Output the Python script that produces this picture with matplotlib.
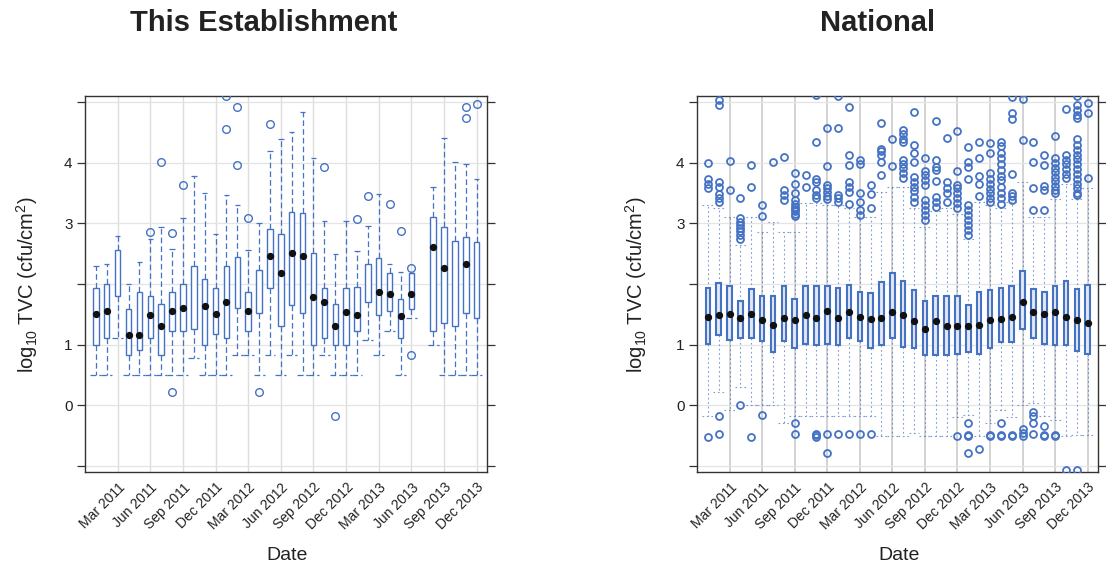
import numpy as np
import pandas as pd
import matplotlib
matplotlib.use('Agg')
import matplotlib.pyplot as plt

plt.rcParams['font.family'] = ['Liberation Sans', 'DejaVu Sans']
plt.rcParams['mathtext.fontset'] = 'custom'
plt.rcParams['mathtext.rm'] = 'Liberation Sans'
plt.rcParams['mathtext.it'] = 'Liberation Sans:italic'

# months on the x axis
months = list(pd.period_range('2011-01', '2013-12', freq='M').strftime('%b %Y'))
tick_labels = ['Mar 2011', 'Jun 2011', 'Sep 2011', 'Dec 2011', 'Mar 2012', 'Jun 2012',
               'Sep 2012', 'Dec 2012', 'Mar 2013', 'Jun 2013', 'Sep 2013', 'Dec 2013']
est_missing = ['Jul 2013']

# This Establishment (log10 TVC)
est_q1 = [1.00, 1.11, 1.80, 0.82, 0.91, 1.11, 0.82, 1.23, 1.23, 1.26, 1.00, 1.17, 1.11, 1.61, 1.23, 1.52, 1.94, 1.30,
          1.65, 1.52, 1.00, 1.11, 1.00, 1.00, 1.23, 1.70, 1.48, 1.55, 1.11, 1.58, 1.23, 1.36, 1.30, 1.52, 1.43]
est_q3 = [1.94, 2.00, 2.56, 1.59, 1.86, 1.80, 1.67, 1.86, 2.00, 2.30, 2.08, 1.94, 2.30, 2.45, 1.87, 2.23, 2.91, 2.82,
          3.19, 3.18, 2.52, 1.93, 1.67, 1.94, 1.95, 2.33, 2.43, 2.18, 1.75, 2.18, 3.11, 2.94, 2.71, 2.78, 2.69]
est_med = [1.50, 1.55, np.nan, 1.15, 1.15, 1.48, 1.30, 1.55, 1.61, np.nan, 1.63, 1.50, 1.70, np.nan, 1.55, np.nan,
           2.46, 2.18, 2.52, 2.46, 1.79, 1.70, 1.30, 1.53, 1.48, np.nan, 1.86, 1.83, 1.47, 1.83, 2.61, 2.26, np.nan,
           2.33, np.nan]
est_lo = [0.5, 0.5, 1.11, 0.5, 0.5, 0.5, 0.5, 0.5, 0.5, 0.78, 0.5, 0.5, 0.5, 0.82, 0.82, 0.5, 0.82, 0.5, 0.82, 0.5,
          0.5, 0.82, 0.5, 0.5, 0.5, 1.08, 0.82, 1.23, 0.5, 1.43, 1.0, 0.5, 0.5, 0.5, 0.5]
est_hi = [2.30, 2.33, 2.80, 2.00, 2.36, 2.75, 2.94, 2.58, 3.09, 3.79, 3.50, 2.83, 3.47, 3.30, 2.57, 3.00, 4.20, 4.39,
          4.51, 4.84, 4.09, 3.04, 2.50, 3.04, 2.55, 2.96, 3.49, 2.33, 2.20, 2.18, 3.61, 4.42, 4.01, 3.98, 3.74]
est_out = [[], [], [], [], [], [2.86], [4.01], [2.85, 0.22], [3.64], [], [], [], [5.11, 4.56], [4.93, 3.97], [3.09],
           [0.22], [4.65], [], [], [], [], [3.93], [-0.18], [], [3.07], [3.45], [], [3.33], [2.88], [2.26, 0.82],
           [], [], [], [4.93, 4.75], [4.98]]

# National
nat_q1 = [1.01, 1.16, 1.07, 1.10, 1.10, 1.05, 0.88, 1.06, 0.95, 1.01, 0.99, 1.01, 0.99, 1.10, 1.05, 0.94, 0.99, 1.10,
          0.96, 0.94, 0.82, 0.82, 0.82, 0.85, 0.87, 0.85, 0.95, 1.04, 1.04, 1.26, 1.10, 1.01, 0.99, 0.99, 0.90, 0.85]
nat_q3 = [1.93, 2.01, 1.96, 1.72, 1.91, 1.80, 1.80, 1.97, 1.76, 1.96, 1.96, 1.97, 1.93, 1.98, 1.86, 1.85, 2.03, 2.18,
          2.05, 1.90, 1.72, 1.80, 1.80, 1.80, 1.65, 1.86, 1.90, 1.94, 1.97, 2.21, 1.91, 1.86, 1.97, 2.05, 1.91, 1.98]
nat_med = [1.45, 1.48, 1.50, 1.43, 1.50, 1.40, 1.32, 1.43, 1.40, 1.48, 1.43, 1.55, 1.43, 1.53, 1.46, 1.42, 1.43, 1.53,
           1.48, 1.39, 1.25, 1.39, 1.30, 1.30, 1.30, 1.33, 1.40, 1.42, 1.46, 1.70, 1.53, 1.51, 1.53, 1.46, 1.40, 1.35]
nat_lo = [-0.18, 0.22, -0.09, 0.30, 0.0, 0.0, 0.0, -0.30, -0.18, -0.18, -0.18, -0.18, -0.18, -0.18, -0.18, -0.18,
          -0.52, -0.52, -0.52, -0.47, -0.52, -0.52, -0.52, -0.20, -0.17, -0.52, -0.30, -0.08, -0.20, 0.0, 0.03,
          -0.18, -0.25, -0.52, -0.50, -0.50]
nat_hi = [3.31, 3.25, 3.11, 2.65, 3.11, 2.86, 3.03, 2.86, 2.86, 3.34, 3.34, 3.30, 3.30, 3.25, 3.10, 3.10, 3.52, 3.60,
          3.60, 3.25, 2.95, 3.20, 3.25, 3.15, 2.75, 3.35, 3.30, 3.25, 3.35, 3.69, 3.10, 3.10, 3.40, 3.65, 3.40, 3.58]
nat_out = [
    [4.00, 3.73, 3.65, 3.58, -0.53],
    [5.04, 4.95, 3.68, 3.61, 3.48, 3.42, 3.36, -0.18, -0.48],
    [4.03, 3.55],
    [3.42, 3.09, 3.03, 2.98, 2.92, 2.87, 2.81, 2.75, 0.0],
    [3.96, 3.61, -0.53],
    [3.31, 3.13, -0.17],
    [4.01],
    [4.10, 3.55, 3.47, 3.39],
    [3.84, 3.65, 3.50, 3.38, 3.33, 3.28, 3.24, 3.20, 3.16, 3.12, -0.30, -0.48],
    [3.80, 3.61],
    [5.12, 4.34, 3.73, 3.68, 3.55, 3.47, 3.42, -0.48, -0.50, -0.53],
    [4.57, 3.95, 3.64, 3.58, 3.52, 3.46, 3.40, -0.48, -0.80],
    [5.10, 4.57, 3.47, 3.42, 3.36, -0.48],
    [4.93, 4.13, 3.97, 3.68, 3.61, 3.52, 3.33, -0.48],
    [4.05, 3.98, 3.50, 3.36, 3.22, 3.14, -0.48],
    [3.64, 3.49, 3.25, -0.48],
    [4.66, 4.23, 4.19, 4.13, 4.02, 3.80],
    [4.39, 3.95],
    [4.55, 4.48, 4.39, 4.34, 4.05, 3.98, 3.91, 3.84, 3.76],
    [4.85, 4.30, 4.16, 4.02, 3.77, 3.69, 3.61, 3.53, 3.44, 3.36],
    [4.09, 3.87, 3.80, 3.72, 3.64, 3.39, 3.31, 3.23, 3.14, 3.06],
    [4.69, 4.05, 3.94, 3.89, 3.71, 3.44, 3.36, 3.28],
    [4.42, 3.69, 3.58, 3.50, 3.36],
    [4.53, 3.87, 3.64, 3.58, 3.50, 3.42, 3.34, 3.26, -0.52],
    [4.26, 4.02, 3.93, 3.73, 3.31, 3.22, 3.14, 3.06, 2.98, 2.89, 2.81, -0.30, -0.50, -0.52, -0.80],
    [4.34, 4.08, 3.79, 3.65, 3.45, -0.72],
    [4.33, 4.16, 3.83, 3.73, 3.65, 3.57, 3.50, 3.42, 3.36, -0.50, -0.52],
    [4.35, 4.28, 4.17, 4.08, 3.98, 3.89, 3.79, 3.72, 3.61, 3.50, 3.42, 3.32, -0.30, -0.50, -0.52],
    [5.09, 4.83, 4.72, 3.82, 3.50, 3.45, 3.39, -0.50, -0.52],
    [5.05, 4.38, -0.40, -0.47, -0.52],
    [4.35, 4.02, 3.59, 3.22, -0.11, -0.18, -0.30, -0.48],
    [4.13, 3.97, 3.62, 3.55, 3.22, -0.35, -0.50, -0.52],
    [4.44, 4.08, 4.00, 3.92, 3.85, 3.77, 3.70, 3.62, 3.55, 3.50, -0.50, -0.52],
    [4.89, 4.13, 4.05, 3.98, 3.90, 3.82, 3.75, -1.07],
    [5.10, 4.96, 4.88, 4.79, 4.74, 4.39, 4.30, 4.22, 4.14, 4.06, 3.98, 3.90, 3.82, 3.74, 3.66, 3.58, 3.50, 3.47, -1.07],
    [4.99, 4.83, 3.75],
]

blue = '#4472c4'
W, H = 1106, 572
fig = plt.figure(figsize=(W / 100, H / 100), dpi=100)
ax1 = fig.add_axes([85 / W, 1 - 472 / H, 402 / W, 376 / H])
ax2 = fig.add_axes([697 / W, 1 - 472 / H, 401 / W, 376 / H])

est_pos = [months.index(m) for m in months if m not in est_missing]
nat_pos = list(range(len(months)))


def draw_panel(ax, pos, q1, q3, med, lo, hi, out, national):
    stats = [dict(q1=a, q3=b, med=c, whislo=d, whishi=e, fliers=f)
             for a, b, c, d, e, f in zip(q1, q3, med, lo, hi, out)]
    if national:
        wstyle = dict(color=blue, linestyle=(0, (1.5, 2.5)), linewidth=0.8, alpha=0.7)
        bstyle = dict(facecolor='#e3e7ee', edgecolor=blue, linewidth=1.5)
        fstyle = dict(marker='o', markersize=5.0, markerfacecolor='none', markeredgecolor=blue,
                      markeredgewidth=1.3, linestyle='none')
        bw = 0.42
    else:
        wstyle = dict(color=blue, linestyle=(0, (4.5, 2.5)), linewidth=0.9)
        bstyle = dict(facecolor='white', edgecolor=blue, linewidth=1.0)
        fstyle = dict(marker='o', markersize=5.5, markerfacecolor='none', markeredgecolor=blue,
                      markeredgewidth=1.0, linestyle='none')
        bw = 0.5
    ax.bxp(stats, positions=pos, widths=bw, patch_artist=True, showcaps=False,
           boxprops=bstyle, whiskerprops=wstyle, flierprops=fstyle,
           medianprops=dict(visible=False), manage_ticks=False, zorder=3)
    p = np.array(pos)
    # whisker ends
    if national:
        ax.hlines(hi, p - 0.5, p + 0.5, color=blue, linestyle=(0, (1.5, 2.5)), lw=0.8, alpha=0.7, zorder=3)
        ax.hlines(lo, p - 0.5, p + 0.5, color=blue, linestyle=(0, (1.5, 2.5)), lw=0.8, alpha=0.7, zorder=3)
    else:
        ax.hlines(hi, p - 0.25, p + 0.25, color=blue, lw=0.9, zorder=3)
        ax.hlines(lo, p - 0.5, p + 0.5, color=blue, linestyle=(0, (4.5, 2.5)), lw=0.9, zorder=3)
    m = np.array(med, dtype=float)
    ok = ~np.isnan(m)
    ax.scatter(p[ok], m[ok], s=18, color='#111111', zorder=4)

    ax.set_xlim(-1.0, 35.95)
    ax.set_ylim(-1.107, 5.107)
    ax.set_yticks([-1, 0, 1, 2, 3, 4, 5])
    ax.set_yticklabels(['', '0', '1', '', '3', '4', ''])
    ax.set_xticks([months.index(t) for t in tick_labels])
    ax.set_xticklabels(tick_labels, rotation=45, ha='right', rotation_mode='anchor', fontsize=10)
    ax.tick_params(axis='y', direction='out', length=6, width=0.9, color='#333333',
                   labelsize=11, labelcolor='#222222', right=True, pad=3)
    ax.tick_params(axis='x', length=0, pad=6, labelcolor='#222222')
    ax.grid(axis='y', color='#e4e4e4', lw=0.9, zorder=0)
    if national:
        ax.grid(axis='x', color='#d2d2d2', lw=1.4, zorder=0)
    else:
        ax.grid(axis='x', color='#dddddd', lw=1.0, zorder=0)
    ax.set_axisbelow(True)
    for s in ax.spines.values():
        s.set_color('#333333')
        s.set_linewidth(1.0)


draw_panel(ax1, est_pos, est_q1, est_q3, est_med, est_lo, est_hi, est_out, False)
draw_panel(ax2, nat_pos, nat_q1, nat_q3, nat_med, nat_lo, nat_hi, nat_out, True)

fig.text(264 / W, 1 - 23 / H, 'This Establishment', ha='center', va='center',
         fontsize=21, fontweight='bold', color='#222222')
fig.text(878 / W, 1 - 23 / H, 'National', ha='center', va='center',
         fontsize=21, fontweight='bold', color='#222222')
ylab = r'log$_{10}$ TVC (cfu/cm$^2$)'
fig.text(27 / W, 1 - 285 / H, ylab, rotation=90, ha='center', va='center', fontsize=14.5, color='#222222')
fig.text(636 / W, 1 - 285 / H, ylab, rotation=90, ha='center', va='center', fontsize=14.5, color='#222222')
fig.text(287 / W, 1 - 556 / H, 'Date', ha='center', va='center', fontsize=14, color='#222222')
fig.text(899 / W, 1 - 556 / H, 'Date', ha='center', va='center', fontsize=14, color='#222222')

fig.savefig('out.png', dpi=100)
